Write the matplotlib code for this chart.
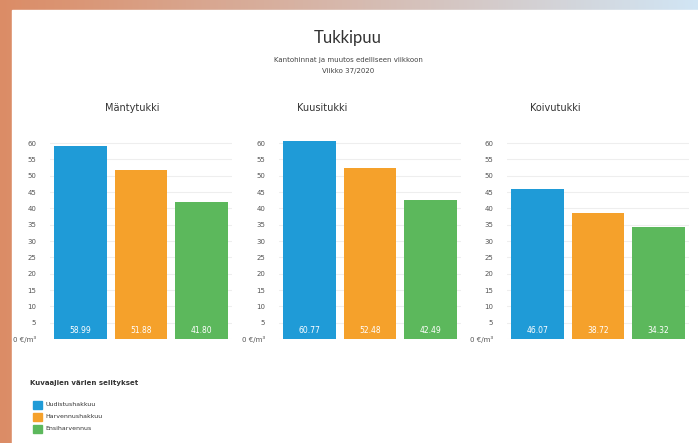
import numpy as np
import matplotlib.pyplot as plt
from matplotlib.patches import Rectangle

# data
panels = ["Mäntytukki", "Kuusitukki", "Koivutukki"]
hakkuut = ["Uudistushakkuu", "Harvennushakkuu", "Ensiharvennus"]
manty = [58.99, 51.88, 41.80]
kuusi = [60.77, 52.48, 42.49]
koivu = [46.07, 38.72, 34.32]
yticks = [0, 5, 10, 15, 20, 25, 30, 35, 40, 45, 50, 55, 60]

colors = ["#1f9bd7", "#f5a12b", "#5cb85c"]
W, H = 698, 443

fig = plt.figure(figsize=(W / 100, H / 100), dpi=100)

# background: peach strip on the left, gradient on top, white card
bg = fig.add_axes([0, 0, 1, 1])
grad = np.linspace(0, 1, 256)
img = np.zeros((1, 256, 3))
c1 = np.array([0.86, 0.55, 0.40])
c2 = np.array([0.82, 0.90, 0.96])
img[0] = c1 + (c2 - c1) * grad[:, None]
bg.imshow(img, aspect="auto", extent=[0, 1, 0, 1])
bg.add_patch(Rectangle((12 / W, 0), 1, 1 - 10 / H, color="white", zorder=2))
bg.axis("off")

fig.text(348 / W, 1 - 38 / H, "Tukkipuu", ha="center", va="center",
         fontsize=12, color="#333333", family="Lato")
fig.text(348 / W, 1 - 60 / H, "Kantohinnat ja muutos edelliseen viikkoon",
         ha="center", va="center", fontsize=5, color="#444444")
fig.text(348 / W, 1 - 71 / H, "Viikko 37/2020", ha="center", va="center",
         fontsize=5, color="#444444")

data = [manty, kuusi, koivu]
lefts = [50, 279, 507]
title_x = [132, 322, 555]
for i, (name, vals) in enumerate(zip(panels, data)):
    ax = fig.add_axes([lefts[i] / W, (H - 339) / H, 182 / W, 202.5 / H])
    x = np.arange(len(vals))
    ax.bar(x, vals, width=0.87, color=colors, zorder=3)
    for xi, v in zip(x, vals):
        ax.text(xi, 2.5, f"{v:.2f}", ha="center", va="center",
                color="white", fontsize=5.5, zorder=4)
    ax.set_ylim(0, 62)
    ax.set_xlim(-0.5, 2.5)
    ax.set_yticks(yticks)
    ax.set_yticklabels(["0 €/m³"] + [str(t) for t in yticks[1:]])
    ax.tick_params(axis="y", length=0, labelsize=5, colors="#555555", pad=10)
    ax.set_xticks([])
    ax.grid(axis="y", color="#eeeeee", linewidth=0.8, zorder=0)
    for s in ax.spines.values():
        s.set_visible(False)
    ax.set_facecolor("none")
    fig.text(title_x[i] / W, 1 - 108 / H, name, ha="center", va="center",
             fontsize=7, color="#333333")

# legend
fig.text(30 / W, 1 - 383 / H, "Kuvaajien värien selitykset", ha="left",
         va="center", fontsize=5, fontweight="bold", color="#333333")
for j, (lab, c) in enumerate(zip(hakkuut, colors)):
    yy = 405 + j * 12
    bg.add_patch(Rectangle((33 / W, 1 - (yy + 4) / H), 9 / W, 8 / H,
                           color=c, zorder=3))
    fig.text(45 / W, 1 - yy / H, lab, ha="left", va="center", fontsize=4.5,
             color="#333333")

fig.savefig("out.png", dpi=100)
